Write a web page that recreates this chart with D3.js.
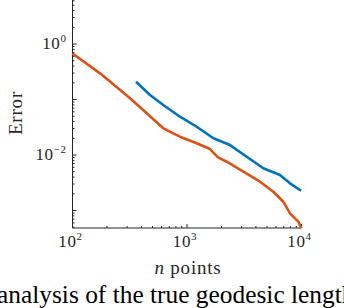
<!DOCTYPE html>
<html>
<head>
<meta charset="utf-8">
<script src="https://cdn.jsdelivr.net/npm/d3@7"></script>
<style>
  body { margin: 0; background: #fff; }
  svg { display: block; font-family: "Liberation Serif", "Times New Roman", serif; }
</style>
</head>
<body>
<svg id="chart" width="344" height="308"></svg>
<script>
// values
const orangeN = [100, 174, 318, 445, 621, 868, 1216, 1589, 1866, 2223, 3105, 4345, 5675, 6938, 7940, 8776, 9380, 10000];
const orangeErr = [0.674, 0.296, 0.105, 0.0564, 0.0303, 0.0214, 0.0163, 0.0128, 0.0091, 0.00757, 0.0050, 0.0033, 0.00218, 0.00144, 0.00089, 0.00072, 0.00063, 0.00048];
const blueN = [359, 475, 621, 868, 1216, 1700, 2377, 3322, 4638, 6486, 7940, 9910];
const blueErr = [0.209, 0.1205, 0.0796, 0.049, 0.0323, 0.02, 0.0151, 0.0093, 0.00576, 0.00436, 0.00309, 0.00227];
const xTickExp = [2, 3, 4];
const yTickExp = [0, -2];

const COLOR = { orange: "#D95319", blue: "#0072BD" };

const svg = d3.select("#chart");
const plot = { left: 72.5, right: 301.5, top: 0, bottom: 228 };

const x = d3.scaleLog().domain([100, 10000]).range([plot.left, plot.right]);
const y = d3.scaleLog().domain([4.84e-4, 6.21]).range([plot.bottom, plot.top]);

const g = svg.append("g");

// minor + major ticks, pointing inward
const xMinor = [];
for (let e = 2; e < 4; e++) for (let k = 1; k < 10; k++) xMinor.push(k * Math.pow(10, e));
xMinor.push(10000);
g.selectAll(".xt").data(xMinor).enter().append("line")
  .attr("x1", d => x(d)).attr("x2", d => x(d))
  .attr("y1", plot.bottom).attr("y2", d => plot.bottom - (Math.abs(Math.log10(d) % 1) < 1e-9 ? 4 : 2))
  .attr("stroke", "#262626").attr("stroke-width", 1);

const yMinor = [];
for (let e = -4; e <= 0; e++) for (let k = 1; k < 10; k++) {
  const v = k * Math.pow(10, e);
  if (v >= 4.84e-4 && v <= 6.21) yMinor.push(v);
}
g.selectAll(".yt").data(yMinor).enter().append("line")
  .attr("y1", d => y(d)).attr("y2", d => y(d))
  .attr("x1", plot.left).attr("x2", d => plot.left + (Math.abs(Math.log10(d) % 1) < 1e-9 ? 4 : 2))
  .attr("stroke", "#262626").attr("stroke-width", 1);

// axis lines
g.append("line").attr("x1", plot.left).attr("x2", plot.right).attr("y1", plot.bottom).attr("y2", plot.bottom)
  .attr("stroke", "#262626").attr("stroke-width", 1);
g.append("line").attr("x1", plot.left).attr("x2", plot.left).attr("y1", plot.top).attr("y2", plot.bottom)
  .attr("stroke", "#262626").attr("stroke-width", 1);

// data lines
const line = d3.line().x(d => x(d[0])).y(d => y(d[1]));
g.append("path").datum(d3.zip(blueN, blueErr))
  .attr("d", line).attr("fill", "none").attr("stroke", COLOR.blue)
  .attr("stroke-width", 2.6).attr("stroke-linejoin", "round");
g.append("path").datum(d3.zip(orangeN, orangeErr))
  .attr("d", line).attr("fill", "none").attr("stroke", COLOR.orange)
  .attr("stroke-width", 2.6).attr("stroke-linejoin", "round");

// tick labels
const xl = g.selectAll(".xl").data(xTickExp).enter().append("text")
  .attr("x", d => x(Math.pow(10, d)) - 2).attr("y", 247)
  .attr("text-anchor", "middle").attr("font-size", 17).attr("letter-spacing", 0.6).attr("fill", "#262626");
xl.append("tspan").text("10");
xl.append("tspan").attr("dy", -7).attr("font-size", 11).text(d => d);

const yl = g.selectAll(".yl").data(yTickExp).enter().append("text")
  .attr("x", plot.left - 6).attr("y", d => y(Math.pow(10, d)) + 5)
  .attr("text-anchor", "end").attr("font-size", 17).attr("letter-spacing", 0.6).attr("fill", "#262626");
yl.append("tspan").text("10");
yl.append("tspan").attr("dy", -7).attr("font-size", 11).text(d => d < 0 ? "\u2212" + (-d) : d);

// axis titles
const xt = g.append("text").attr("x", 188).attr("y", 274).attr("text-anchor", "middle")
  .attr("font-size", 19).attr("letter-spacing", 0.8).attr("fill", "#262626");
xt.append("tspan").attr("font-style", "italic").text("n");
xt.append("tspan").text(" points");

g.append("text").attr("transform", "translate(22,113) rotate(-90)")
  .attr("text-anchor", "middle").attr("font-size", 19).attr("letter-spacing", 0.8)
  .attr("fill", "#262626").text("Error");

// caption cut off below the figure
svg.append("text").attr("x", -3).attr("y", 303).attr("font-size", 25.4).attr("fill", "#000")
  .text("analysis of the true geodesic length");
</script>
</body>
</html>
